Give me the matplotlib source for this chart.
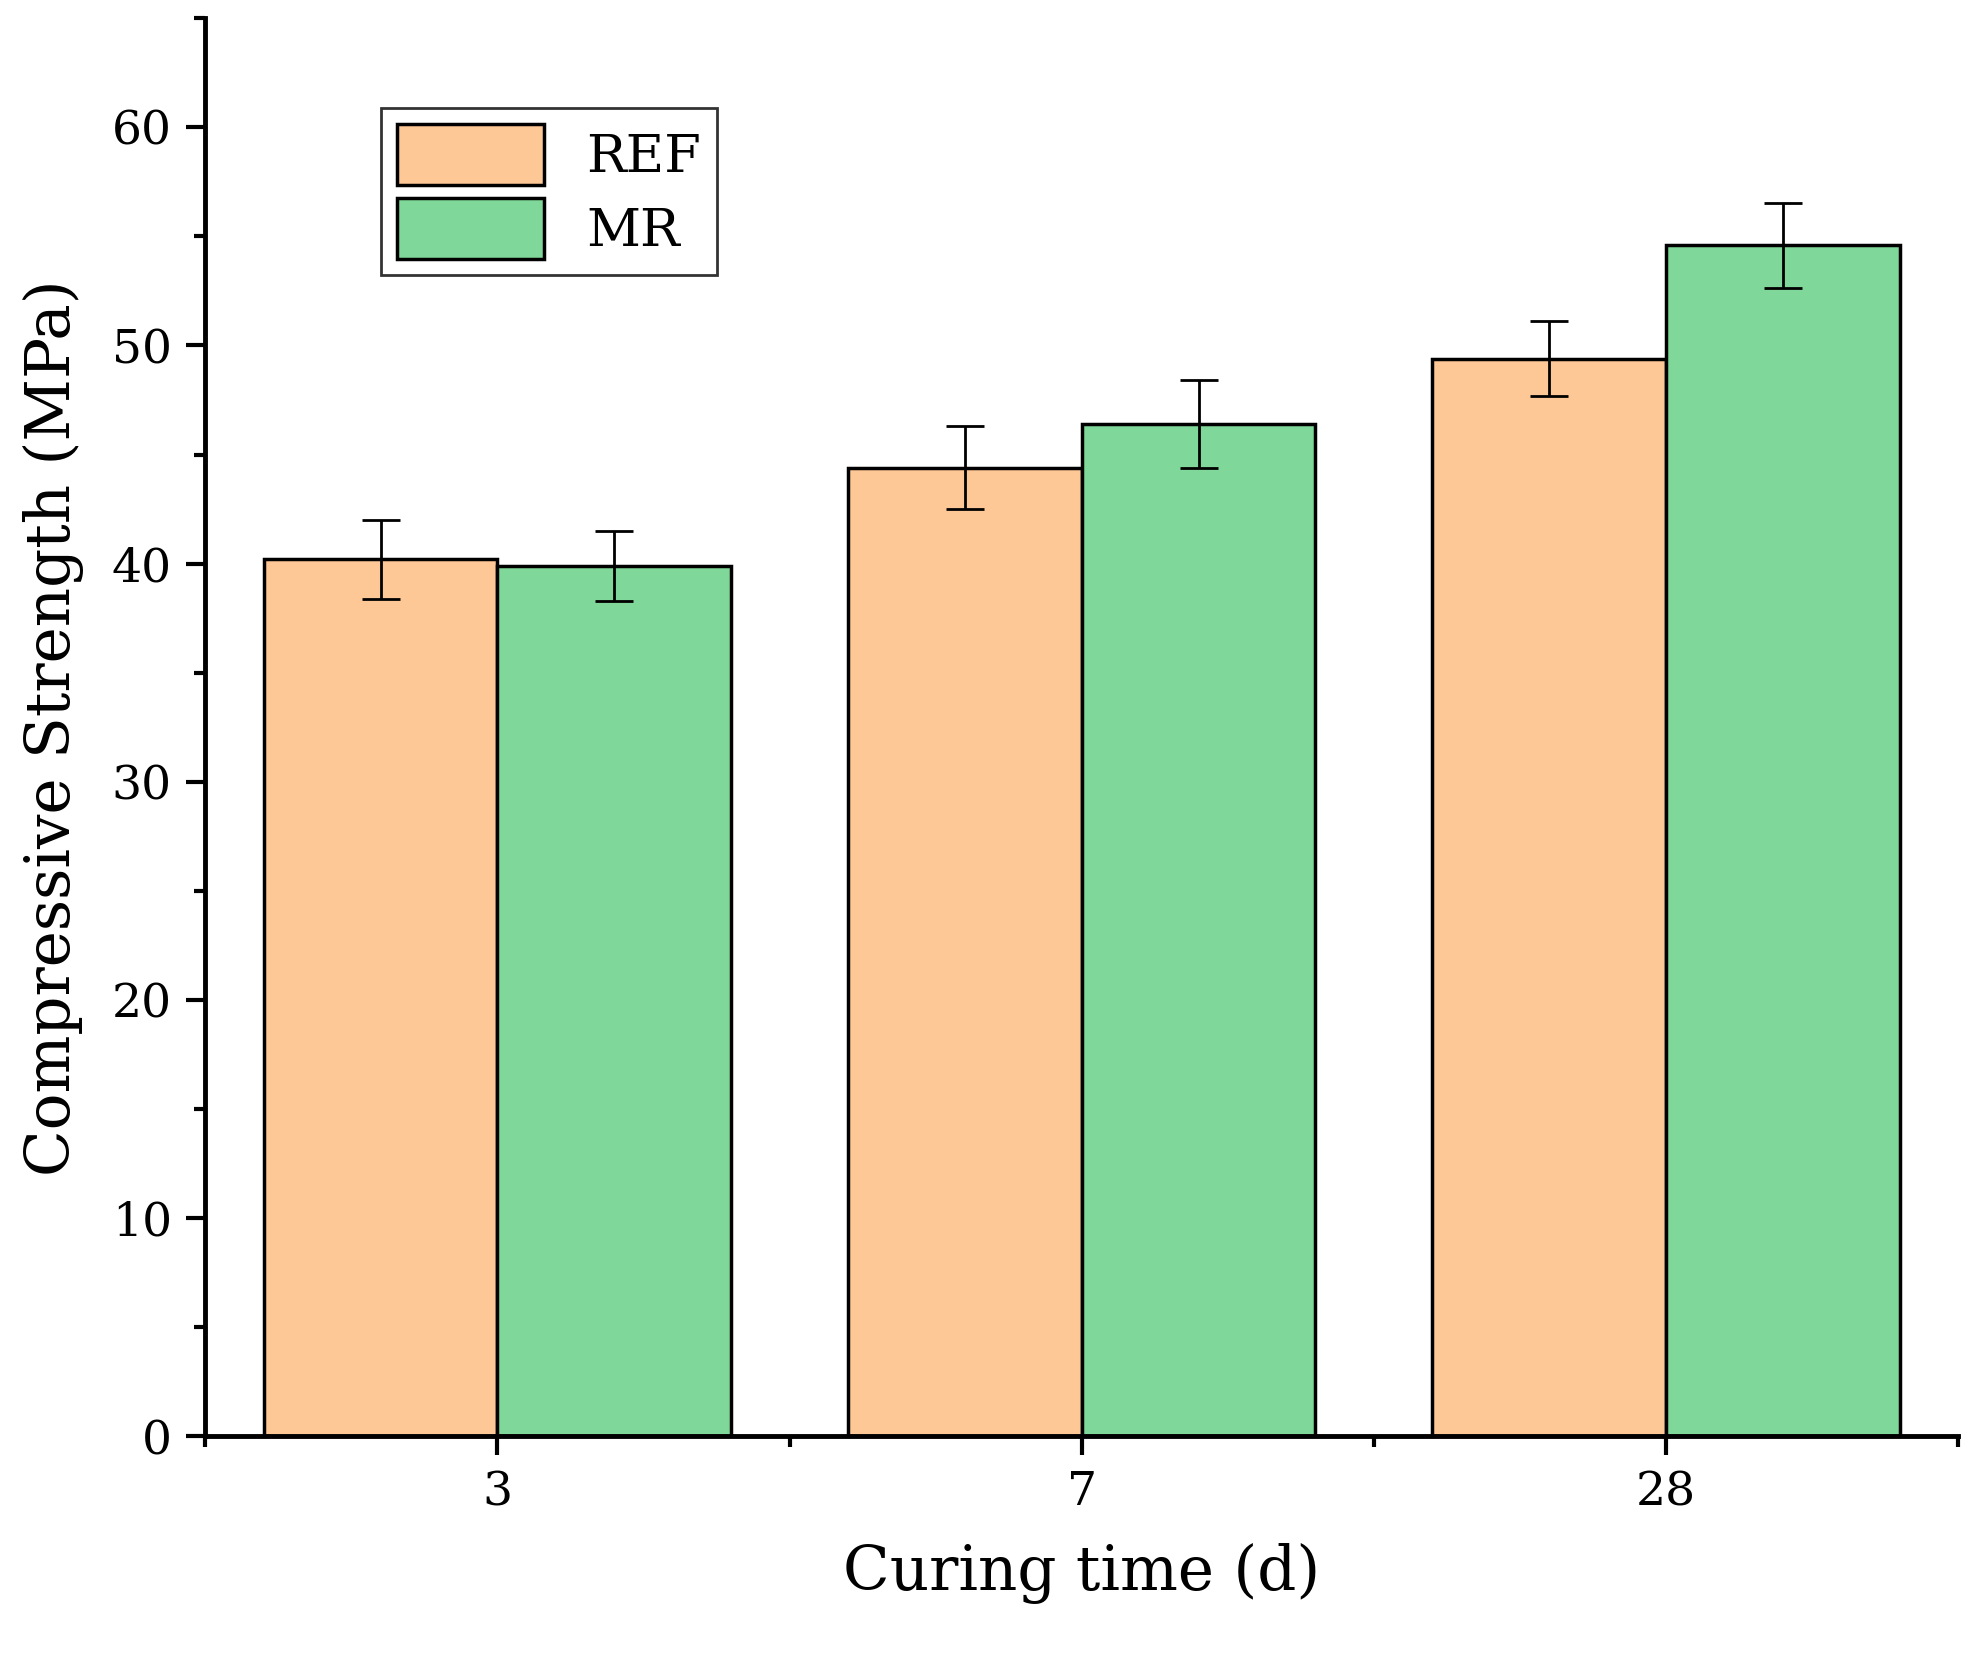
import numpy as np
import matplotlib.pyplot as plt
from matplotlib.ticker import MultipleLocator, FixedLocator

categories = ['3', '7', '28']
ref_vals = [40.2, 44.4, 49.4]
ref_err = [1.8, 1.9, 1.7]
mr_vals = [39.9, 46.4, 54.6]
mr_err = [1.6, 2.0, 1.95]

plt.rcParams['font.family'] = 'DejaVu Serif'
fig = plt.figure(figsize=(19.74, 16.53), dpi=100)
ax = fig.add_axes([0.104, 0.131, 0.888, 0.858])

x = np.arange(len(categories))
w = 0.4
ekw = dict(elinewidth=2, capthick=2)
ax.bar(x - w / 2, ref_vals, w, yerr=ref_err, capsize=14, color='#fdc896',
       edgecolor='black', linewidth=2.5, error_kw=ekw, label='REF')
ax.bar(x + w / 2, mr_vals, w, yerr=mr_err, capsize=14, color='#7fd899',
       edgecolor='black', linewidth=2.5, error_kw=ekw, label='MR')

ax.set_xlim(-0.5, 2.5)
ax.set_ylim(0, 65)
ax.set_xticks(x)
ax.set_xticklabels(categories)
ax.xaxis.set_minor_locator(FixedLocator([-0.5, 0.5, 1.5, 2.5]))
ax.yaxis.set_major_locator(MultipleLocator(10))
ax.yaxis.set_minor_locator(MultipleLocator(5))
ax.spines['top'].set_visible(False)
ax.spines['right'].set_visible(False)
for s in ('left', 'bottom'):
    ax.spines[s].set_linewidth(3.5)
ax.tick_params(which='major', direction='out', length=14, width=3, labelsize=34, pad=10)
ax.tick_params(which='minor', direction='out', length=8, width=3)

ax.set_xlabel('Curing time (d)', fontsize=44, labelpad=20)
ax.set_ylabel('Compressive Strength (MPa)', fontsize=44, labelpad=20)

leg = ax.legend(loc='upper left', bbox_to_anchor=(0.085, 0.955), fontsize=38,
                fancybox=False, edgecolor='black', handlelength=2.8,
                handleheight=1.4, borderpad=0.3, labelspacing=0.25)
leg.get_frame().set_linewidth(2)

fig.savefig('out.png', dpi=100)
